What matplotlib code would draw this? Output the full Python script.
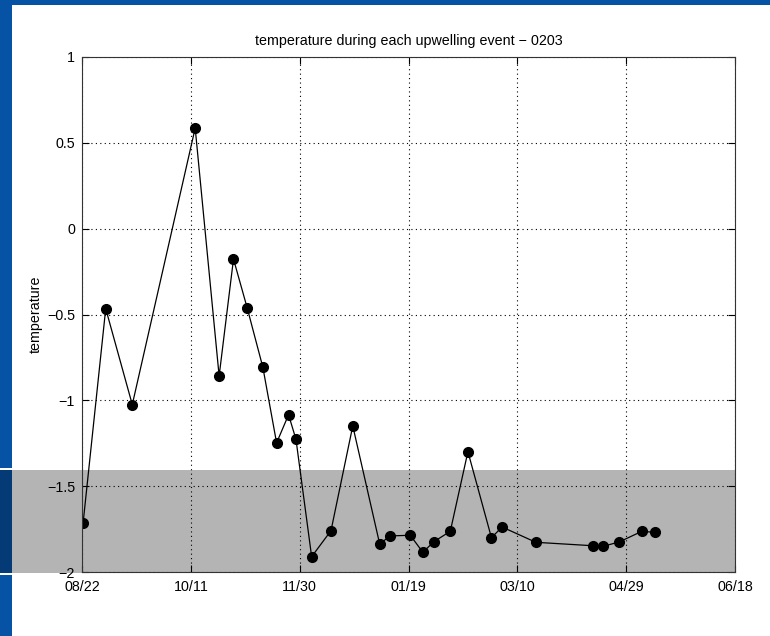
import matplotlib
matplotlib.use('Agg')
import matplotlib.pyplot as plt
from matplotlib.patches import Rectangle

# days since 08/22/2002 and the mean temperature of each upwelling event
days = [0.5, 10.9, 23.1, 52.0, 63.0, 69.6, 75.9, 83.1, 89.4, 94.9, 98.3,
        105.5, 114.4, 124.4, 136.8, 141.3, 150.8, 156.6, 161.7, 169.2,
        177.3, 188.1, 193.0, 208.5, 234.7, 239.5, 246.8, 257.2, 263.1]
temps = [-1.715, -0.466, -1.025, 0.586, -0.858, -0.177, -0.462, -0.808,
         -1.248, -1.084, -1.227, -1.911, -1.759, -1.149, -1.839, -1.790,
         -1.786, -1.885, -1.823, -1.763, -1.299, -1.800, -1.738, -1.827,
         -1.847, -1.850, -1.825, -1.763, -1.769]
xticks = [0, 50, 100, 150, 200, 250, 300]
xtick_labels = ['08/22', '10/11', '11/30', '01/19', '03/10', '04/29', '06/18']
yticks = [-2, -1.5, -1, -0.5, 0, 0.5, 1]
ytick_labels = ['\u22122', '\u22121.5', '\u22121', '\u22120.5', '0', '0.5', '1']

plt.rcParams['font.family'] = ['Liberation Sans', 'DejaVu Sans']
W, H = 770, 636
fig = plt.figure(figsize=(W / 100, H / 100), dpi=100, facecolor='white')

blue = '#0652a5'
dark_blue = '#043a75'
band_col = '#b4b4b4'

def px_rect(x0, y0, x1, y1, color, z):
    # rectangle in pixel coordinates (origin top-left)
    fig.patches.append(Rectangle((x0 / W, 1 - y1 / H), (x1 - x0) / W, (y1 - y0) / H,
                                 transform=fig.transFigure, facecolor=color,
                                 edgecolor='none', zorder=z))

px_rect(0, 0, 12, H, blue, -3)
px_rect(0, 0, W, 5, blue, -3)
px_rect(0, 470, 735, 573, band_col, -2)
px_rect(0, 470, 12, 573, dark_blue, -1)
px_rect(0, 468, 12, 470, 'white', -1)
px_rect(0, 573, 12, 575, 'white', -1)

ax = fig.add_axes([82 / W, 1 - 572 / H, (735 - 82) / W, (572 - 57) / H])
ax.set_facecolor('none')
ax.plot(days, temps, color='black', linewidth=0.9, marker='o',
        markersize=7, markerfacecolor='black', markeredgecolor='black')

ax.set_xlim(0, 300)
ax.set_ylim(-2, 1)
ax.set_xticks(xticks)
ax.set_xticklabels(xtick_labels)
ax.set_yticks(yticks)
ax.set_yticklabels(ytick_labels)
ax.tick_params(direction='in', length=5, width=0.8, labelsize=10.3,
               top=True, right=True)
ax.tick_params(axis='x', pad=6)
ax.tick_params(axis='y', pad=5)
ax.grid(True, color='black', linestyle=(0, (1, 3)), linewidth=0.8)
for s in ax.spines.values():
    s.set_linewidth(0.8)
    s.set_color('#333333')

ax.set_title('temperature during each upwelling event \u2212 0203',
             fontsize=10.3, pad=9)
ax.set_ylabel('temperature', fontsize=10.3, labelpad=3)

fig.savefig('out.png', dpi=100, facecolor='white')
